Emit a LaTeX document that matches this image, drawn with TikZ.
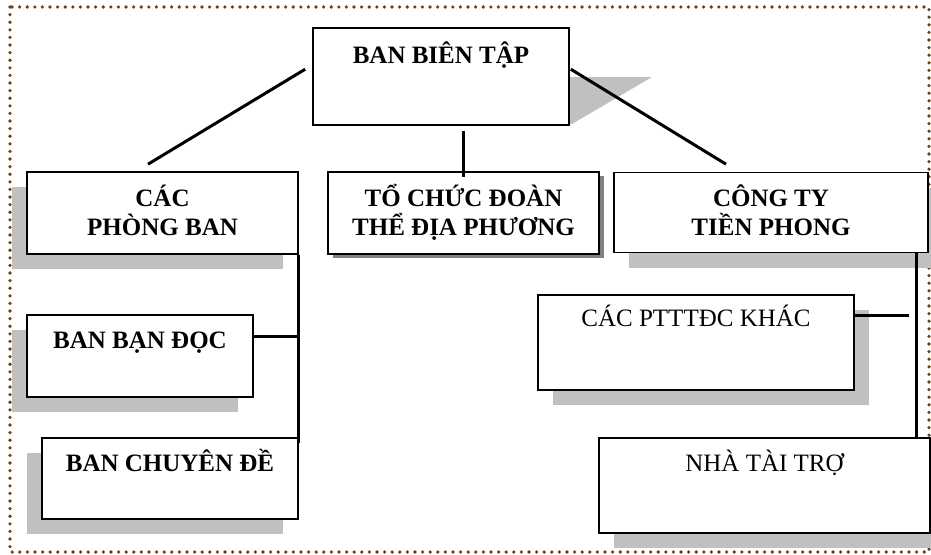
\documentclass[tikz,border=0pt]{standalone}
\usepackage{fontspec}
\setmainfont{Liberation Serif}
\usetikzlibrary{shadows}

\definecolor{framebrown}{RGB}{110,62,12}
\definecolor{shadowgray}{RGB}{192,192,192}
\definecolor{darkshadow}{RGB}{128,128,128}

\tikzset{
  orgbox/.style={rectangle,
      draw = black,
      line width = 1.6pt,
      fill = white,
      inner sep = 0pt,
      align = center,
      text height = 45pt,
      text depth = 0pt,
      font = \bfseries\fontsize{25}{29}\selectfont},
  shadowleft/.style={drop shadow={shadow xshift=-15pt, shadow yshift=-15pt, fill=shadowgray, opacity=1}},
  shadowright/.style={drop shadow={shadow xshift=15pt, shadow yshift=-15pt, fill=shadowgray, opacity=1}},
  shadowdark/.style={drop shadow={shadow xshift=5pt, shadow yshift=-4pt, fill=darkshadow, opacity=1}},
  toptext/.style={anchor=base, inner sep=0pt, font=\bfseries\fontsize{25}{29}\selectfont},
  toptextplain/.style={toptext, font=\fontsize{25}{29}\selectfont},
  link/.style={draw=black, line width=3pt},
}

\begin{document}
\begin{tikzpicture}[x=1pt, y=-1pt]
\useasboundingbox (0,0) rectangle (931,554);

% dotted frame
\draw[framebrown, line width=3.6pt, line cap=round, dash pattern=on 0pt off 7.6pt] (10,7) rectangle (929,552);

% top box
\fill[shadowgray] (569,77) -- (652,77) -- (572,124) -- (569,124) -- cycle; % slanted shadow
\node[orgbox,
    minimum width = 256pt,
    minimum height = 97pt,
    label={[toptext, yshift=-36pt]north:BAN BIÊN TẬP}] (bbt) at (441,76.5) {};

% second row
\node[orgbox, shadowleft,
    minimum width = 271pt,
    minimum height = 82pt] (cpb) at (162.5,213) {CÁC\\PHÒNG BAN};

\node[orgbox, shadowdark,
    minimum width = 271pt,
    minimum height = 82pt] (tcd) at (463.5,213) {TỔ CHỨC ĐOÀN\\THỂ ĐỊA PHƯƠNG};

\node[orgbox, shadowright,
    minimum width = 314pt,
    minimum height = 80pt] (cty) at (771,212.5) {CÔNG TY\\TIỀN PHONG};

% left column
\node[orgbox, shadowleft,
    minimum width = 226pt,
    minimum height = 82pt,
    label={[toptext, yshift=-34pt]north:BAN BẠN ĐỌC}] (bbd) at (140,356) {};

\node[orgbox, shadowleft,
    minimum width = 256pt,
    minimum height = 81pt,
    label={[toptext, yshift=-34pt]north:BAN CHUYÊN ĐỀ}] (bcd) at (170,478.5) {};

% right column
\node[orgbox, shadowright,
    minimum width = 316pt,
    minimum height = 95pt,
    label={[toptextplain, yshift=-32pt]north:CÁC PTTTĐC KHÁC}] (ptt) at (696,342.5) {};

\node[orgbox, shadowright,
    minimum width = 331pt,
    minimum height = 95pt,
    label={[toptextplain, yshift=-34pt]north:NHÀ TÀI TRỢ}] (ntt) at (764.5,485.5) {};

% links from the top box
\draw[link] ([shift={(-7,42)}]bbt.north west) -- ([shift={(-14.5,-7)}]cpb.north);
\draw[link] ([shift={(0,-40)}]tcd.north) -- ([shift={(0,6)}]tcd.north);
\draw[link] ([shift={(1,42)}]bbt.north east) -- ([shift={(-45,-7.5)}]cty.north);

% left bus
\coordinate (bbdjoin) at ([shift={(0,-20)}]bbd.east);
\draw[link] (cpb.south east) -- ([shift={(0,6)}]bcd.north east);
\draw[link] (bbdjoin) -- (bbdjoin -| cpb.south east);

% right bus
\coordinate (ctyjoin) at ([shift={(-12,0)}]cty.south east);
\coordinate (pttjoin) at ([shift={(0,-27.5)}]ptt.east);
\draw[link] (ctyjoin) -- (ctyjoin |- ntt.north);
\draw[link, shorten >=8pt] (pttjoin) -- (pttjoin -| ctyjoin);
\end{tikzpicture}
\end{document}
